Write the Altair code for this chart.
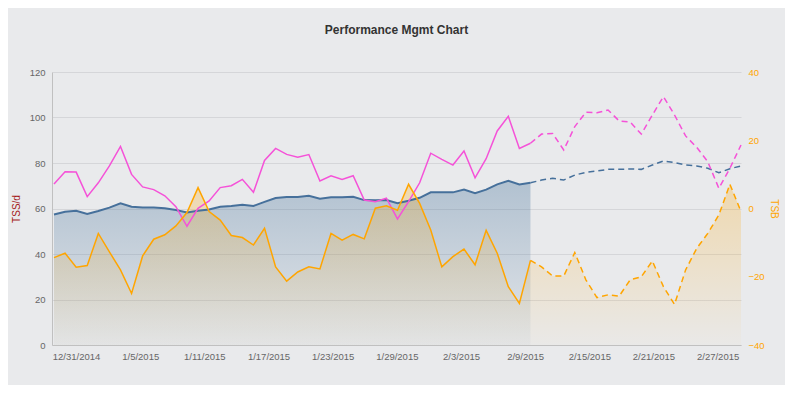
import json
import altair as alt
import pandas as pd

# ---- data ----
ctl = [57.4, 58.6, 59.0, 57.6, 58.9, 60.4, 62.3, 60.8, 60.4, 60.4, 60.1, 59.3, 58.2, 59.0, 59.6, 60.8, 61.1, 61.7, 61.1, 62.9,
       64.6, 65.1, 65.1, 65.6, 64.3, 64.9, 64.9, 65.2, 63.7, 63.6, 63.7, 62.3, 63.4, 64.7, 67.1, 67.1, 67.1, 68.3, 66.7, 68.3,
       70.6, 72.2, 70.6, 71.3, 72.5, 73.3, 72.5, 74.7, 75.9, 76.5, 77.2, 77.2, 77.4, 77.2, 79.1, 80.9, 80.2, 79.1, 78.7, 77.7,
       75.7, 77.5, 78.7]
atl = [70.8, 76.2, 76.0, 65.2, 71.3, 78.7, 87.3, 75.0, 69.5, 68.3, 65.6, 60.8, 52.2, 60.1, 63.3, 69.2, 70.0, 72.8, 67.1, 81.1,
       86.4, 83.8, 82.5, 83.7, 72.1, 74.4, 72.8, 74.4, 63.7, 63.0, 64.5, 55.4, 63.0, 71.3, 84.3, 81.6, 79.1, 85.3, 73.5, 81.9,
       94.1, 100.5, 86.4, 88.7, 92.7, 93.0, 85.7, 96.0, 102.3, 102.1, 103.3, 98.5, 98.0, 92.7, 101.1, 109.2, 101.1, 91.9, 86.9,
       80.6, 68.9, 77.7, 87.9]
tsb = [-14.4, -13.1, -17.2, -16.7, -7.3, -12.7, -18.0, -24.9, -13.9, -9.0, -7.7, -5.1, -1.2, 6.1, -0.9, -3.4, -7.9, -8.5,
       -10.7, -5.8, -17.1, -21.3, -18.6, -17.1, -17.7, -7.3, -9.3, -7.6, -8.9, 0.1, 0.8, -0.5, 7.1, 1.5, -6.3, -17.1, -14.1,
       -11.9, -16.5, -6.4, -13.1, -22.9, -27.8, -15.2, -17.1, -19.8, -19.8, -12.9, -20.9, -26.1, -25.3, -25.7, -20.9, -20.0,
       -15.4, -22.9, -28.1, -18.0, -11.7, -7.3, -1.9, 7.1, -0.9]
start_date = "2014-12-29"
today_index = 43  # 2/10/2015: solid up to here, dashed (planned) after

tick_labels = ["12/31/2014", "1/5/2015", "1/11/2015", "1/17/2015", "1/23/2015", "1/29/2015",
               "2/3/2015", "2/9/2015", "2/15/2015", "2/21/2015", "2/27/2015"]
tick_pos = [1.99, 7.78, 13.57, 19.36, 25.15, 30.94, 36.73, 42.52, 48.31, 54.10, 59.89]
left_ticks = [0, 20, 40, 60, 80, 100, 120]
right_ticks = [-40, -20, 0, 20, 40]

df = pd.DataFrame({
    "i": list(range(len(ctl))),
    "date": pd.date_range(start_date, periods=len(ctl)).strftime("%m/%d/%Y"),
    "ctl": ctl, "atl": atl, "tsb": tsb,
})

FONT = "Liberation Sans"
BG = "#e9eaec"
BLUE = "#46709b"
PINK = "#f552d8"
ORANGE = "#ffa500"
DASH = [6, 4]

label_expr = "%s[indexof(%s, datum.value)]" % (json.dumps(tick_labels), json.dumps(tick_pos))

x_enc = alt.X("i:Q", scale=alt.Scale(domain=[-0.18, 62], nice=False, zero=False),
              axis=alt.Axis(values=tick_pos, labelExpr=label_expr, title=None, grid=False, ticks=False,
                            domainColor="#c0c0c0", labelColor="#666666", labelFontSize=9.5,
                            labelPadding=6, labelFont=FONT, labelOverlap=False))

left_axis = alt.Axis(values=left_ticks, title="TSS/d", titleColor="#a51a1a", titleFont=FONT,
                     titleFontSize=10, titleFontWeight="normal", titlePadding=8,
                     grid=True, gridColor="#d5d6d9", ticks=False, domainColor="#c0c0c0",
                     labelColor="#666666", labelFontSize=9.5, labelFont=FONT, labelPadding=7)
left_scale = alt.Scale(domain=[0, 120], nice=False)

base = alt.Chart(df).transform_calculate(tsb_l="datum.tsb * 1.5 + 60")


def yl(field):
    return alt.Y(field + ":Q", scale=left_scale, axis=left_axis)


solid = base.transform_filter(alt.datum.i <= today_index)
dashed = base.transform_filter(alt.datum.i >= today_index)

ctl_area = solid.mark_area(
    color=alt.Gradient(gradient="linear", x1=0, y1=0, x2=0, y2=1,
                       stops=[alt.GradientStop(color="rgba(69,114,155,0.34)", offset=0),
                              alt.GradientStop(color="rgba(69,114,155,0.04)", offset=1)])
).encode(x=x_enc, y=yl("ctl"))

tsb_area = base.mark_area(
    color=alt.Gradient(gradient="linear", x1=0, y1=0, x2=0, y2=1,
                       stops=[alt.GradientStop(color="rgba(255,165,0,0.26)", offset=0),
                              alt.GradientStop(color="rgba(255,165,0,0.02)", offset=1)])
).encode(x=x_enc, y=yl("tsb_l"))

ctl_line = solid.mark_line(color=BLUE, strokeWidth=2).encode(x=x_enc, y=yl("ctl"))
ctl_dash = dashed.mark_line(color=BLUE, strokeWidth=1.5, strokeDash=DASH).encode(x=x_enc, y=yl("ctl"))
atl_line = solid.mark_line(color=PINK, strokeWidth=1.5).encode(x=x_enc, y=yl("atl"))
atl_dash = dashed.mark_line(color=PINK, strokeWidth=1.5, strokeDash=DASH).encode(x=x_enc, y=yl("atl"))
tsb_line = solid.mark_line(color=ORANGE, strokeWidth=1.5).encode(x=x_enc, y=yl("tsb_l"))
tsb_dash = dashed.mark_line(color=ORANGE, strokeWidth=1.5, strokeDash=DASH).encode(x=x_enc, y=yl("tsb_l"))

main = alt.layer(ctl_area, tsb_area, ctl_line, ctl_dash, atl_line, atl_dash, tsb_line, tsb_dash)

right = alt.Chart(df).mark_line(opacity=0).encode(
    x=x_enc,
    y=alt.Y("tsb:Q", scale=alt.Scale(domain=[-40, 40], nice=False),
            axis=alt.Axis(orient="right", values=right_ticks, title="TSB", titleColor=ORANGE,
                          titleFont=FONT, titleFontSize=10, titleFontWeight="normal", titlePadding=4,
                          grid=False, ticks=False, domain=False, labelColor=ORANGE,
                          labelFontSize=9.5, labelFont=FONT, labelPadding=7)),
)

chart = alt.layer(main, right).resolve_scale(y="independent").properties(
    width=689, height=273,
    autosize="none",
    padding={"left": 44, "top": 64, "right": 44, "bottom": 40},
    background=BG,
    title=alt.TitleParams("Performance Mgmt Chart", font=FONT, fontSize=12, fontWeight="bold",
                          color="#333333", anchor="middle", offset=30),
).configure_view(stroke=None)

chart.save("out.html", embed_options={"renderer": "svg", "actions": False})
